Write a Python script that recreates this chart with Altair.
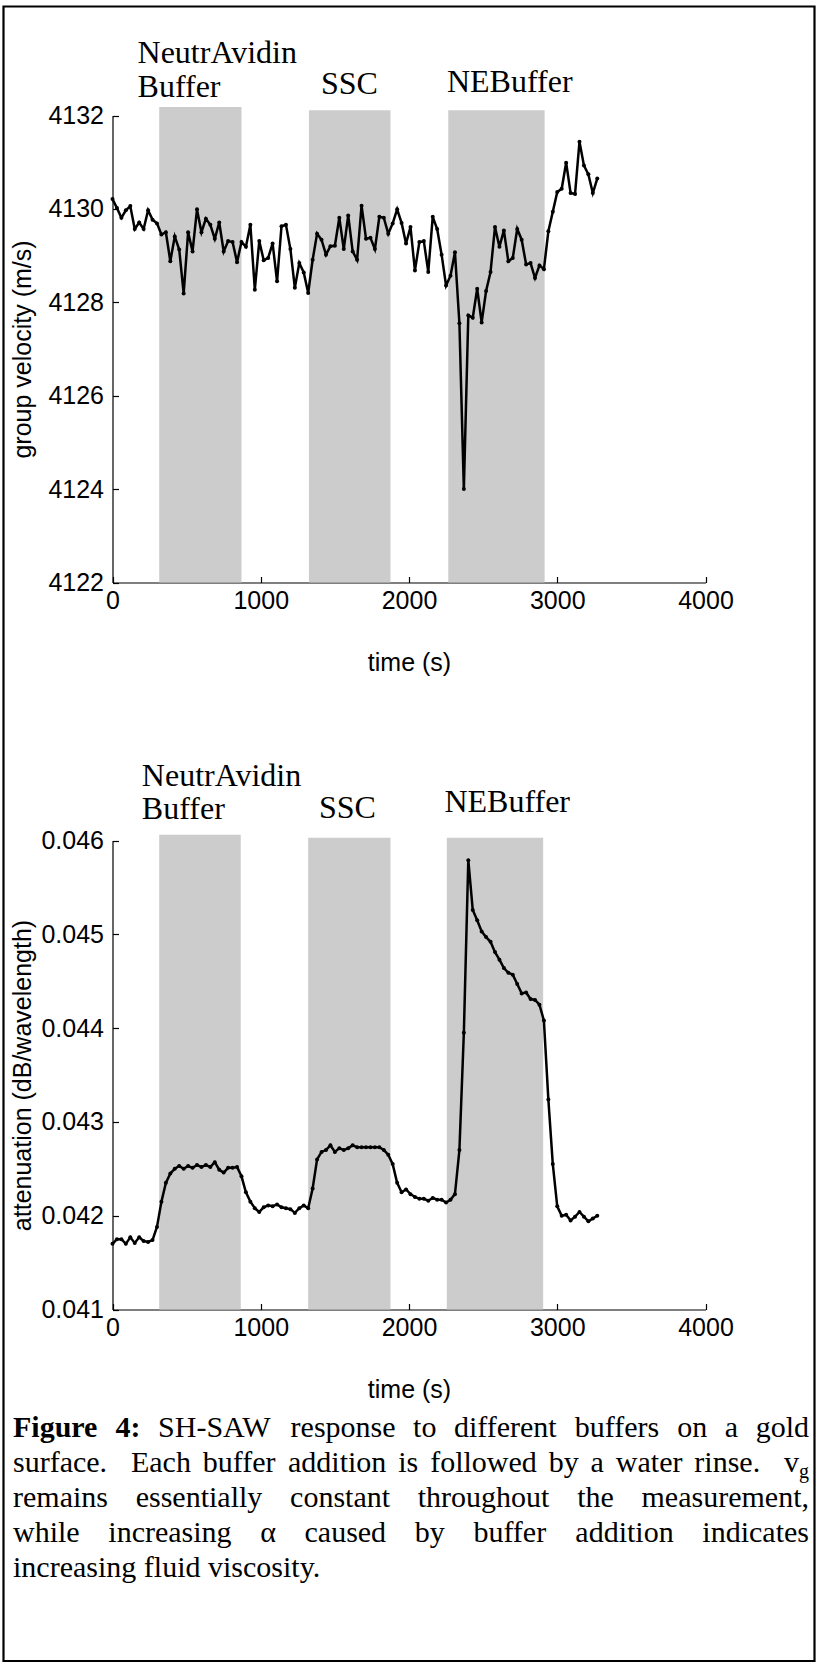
import altair as alt
import pandas as pd

# ---------------- data ----------------
time_s = [
    0, 30, 60, 90, 120, 150, 180, 210, 240, 270,
    300, 330, 360, 390, 420, 450, 480, 510, 540, 570,
    600, 630, 660, 690, 720, 750, 780, 810, 840, 870,
    900, 930, 960, 990, 1020, 1050, 1080, 1110, 1140, 1170,
    1200, 1230, 1260, 1290, 1320, 1350, 1380, 1410, 1440, 1470,
    1500, 1530, 1560, 1590, 1620, 1650, 1680, 1710, 1740, 1770,
    1800, 1830, 1860, 1890, 1920, 1950, 1980, 2010, 2040, 2070,
    2100, 2130, 2160, 2190, 2220, 2250, 2280, 2310, 2340, 2370,
    2400, 2430, 2460, 2490, 2520, 2550, 2580, 2610, 2640, 2670,
    2700, 2730, 2760, 2790, 2820, 2850, 2880, 2910, 2940, 2970,
    3000, 3030, 3060, 3090, 3120, 3150, 3180, 3210, 3240, 3270,
]

group_velocity = [
    4130.21, 4130.02, 4129.81, 4129.97, 4130.06, 4129.57, 4129.71, 4129.57, 4129.97, 4129.77,
    4129.69, 4129.45, 4129.50, 4128.88, 4129.41, 4129.13, 4128.19, 4129.50, 4129.09, 4129.99,
    4129.50, 4129.79, 4129.66, 4129.36, 4129.71, 4129.09, 4129.31, 4129.29, 4128.86, 4129.29,
    4129.19, 4129.66, 4128.27, 4129.31, 4128.90, 4128.95, 4129.26, 4128.45, 4129.63, 4129.66,
    4129.14, 4128.31, 4128.84, 4128.64, 4128.20, 4128.91, 4129.47, 4129.34, 4129.02, 4129.20,
    4129.21, 4129.81, 4129.14, 4129.86, 4129.09, 4128.91, 4130.07, 4129.36, 4129.38, 4129.14,
    4129.83, 4129.81, 4129.47, 4129.69, 4129.99, 4129.70, 4129.26, 4129.61, 4128.68, 4129.29,
    4129.31, 4128.65, 4129.83, 4129.57, 4129.02, 4128.36, 4128.57, 4129.07, 4127.55, 4124.00,
    4127.72, 4127.67, 4128.29, 4127.57, 4128.24, 4128.65, 4129.61, 4129.19, 4129.54, 4128.88,
    4128.95, 4129.57, 4129.34, 4128.81, 4128.84, 4128.52, 4128.79, 4128.71, 4129.52, 4129.94,
    4130.36, 4130.43, 4130.99, 4130.34, 4130.32, 4131.44, 4130.93, 4130.74, 4130.34, 4130.65,
]

attenuation = [
    0.04170, 0.04175, 0.04175, 0.04170, 0.04177, 0.04171, 0.04177, 0.04173, 0.04172, 0.04174,
    0.04188, 0.04215, 0.04235, 0.04245, 0.04250, 0.04253, 0.04250, 0.04253, 0.04251, 0.04254,
    0.04252, 0.04254, 0.04252, 0.04257, 0.04249, 0.04246, 0.04251, 0.04251, 0.04252, 0.04242,
    0.04225, 0.04215, 0.04208, 0.04204, 0.04209, 0.04211, 0.04210, 0.04212, 0.04209, 0.04208,
    0.04207, 0.04203, 0.04208, 0.04211, 0.04208, 0.04229, 0.04260, 0.04268, 0.04270, 0.04275,
    0.04268, 0.04272, 0.04270, 0.04272, 0.04275, 0.04273, 0.04273, 0.04273, 0.04273, 0.04273,
    0.04273, 0.04270, 0.04265, 0.04255, 0.04235, 0.04225, 0.04228, 0.04223, 0.04220, 0.04218,
    0.04218, 0.04216, 0.04219, 0.04217, 0.04217, 0.04214, 0.04217, 0.04223, 0.04270, 0.04395,
    0.04579, 0.04526, 0.04515, 0.04503, 0.04497, 0.04492, 0.04481, 0.04473, 0.04464, 0.04459,
    0.04457, 0.04447, 0.04437, 0.04438, 0.04431, 0.04430, 0.04425, 0.04408, 0.04324, 0.04255,
    0.04210, 0.04200, 0.04201, 0.04195, 0.04199, 0.04204, 0.04199, 0.04194, 0.04197, 0.04200,
]

# shaded buffer intervals (s) and how high each shading reaches
top_band_start = [315, 1325, 2265]
top_band_end = [870, 1875, 2915]
top_band_top = [4132.18, 4132.11, 4132.11]
bot_band_start = [315, 1320, 2255]
bot_band_end = [865, 1875, 2905]
bot_band_top = [0.04606, 0.04603, 0.04603]

# buffer labels (anchored in data coordinates)
label_text = ["NeutrAvidin", "Buffer", "SSC", "NEBuffer"]
top_label_time = [169, 169, 1406, 2256]
top_label_value = [4133.12, 4132.40, 4132.46, 4132.50]
bot_label_time = [198, 198, 1393, 2239]
bot_label_value = [0.046581, 0.046226, 0.046237, 0.046307]

time_ticks = [0, 1000, 2000, 3000, 4000]
velocity_ticks = [4122, 4124, 4126, 4128, 4130, 4132]
attenuation_ticks = [0.041, 0.042, 0.043, 0.044, 0.045, 0.046]

caption_lines = [
    "Figure 4: SH-SAW response to different buffers on a gold",
    "surface.  Each buffer addition is followed by a water rinse.  v_g",
    "remains essentially constant throughout the measurement,",
    "while increasing \u03b1 caused by buffer addition indicates",
    "increasing fluid viscosity.",
]
caption_bold_prefix = ["Figure", "4:"]

# ---------------- layout / style ----------------
W, H = 818, 1668
SANS = "Liberation Sans, Arial, Helvetica, sans-serif"
SERIF = "Liberation Serif, Times New Roman, Times, serif"
X_RANGE = [112.5, 705.5]
TOP_Y_RANGE = [582.5, 115.5]
BOT_Y_RANGE = [1309.5, 840.5]
TICK_FS = 25
LABEL_FS = 32
BAND_FILL = "#cccccc"


def panel(values, band_s, band_e, band_t, lab_t, lab_v, ydom, yrange, yticks, yfmt, ytitle):
    df = pd.DataFrame({"t": time_s, "v": values})
    bands = pd.DataFrame({"s": band_s, "e": band_e, "top": band_t,
                          "bottom": [ydom[0]] * len(band_s)})
    labels = pd.DataFrame({"label": label_text, "t": lab_t, "v": lab_v})
    xs = alt.Scale(domain=[0, 4000], range=X_RANGE, nice=False, zero=False)
    ys = alt.Scale(domain=ydom, range=yrange, nice=False, zero=False)
    axis_y = yrange[0]

    x_main = alt.Axis(orient="bottom", offset=axis_y - H, values=time_ticks, format="d",
                      ticks=False, tickSize=0, domain=True, domainColor="black",
                      domainWidth=1.2, labelFont=SANS, labelFontSize=TICK_FS,
                      labelColor="black", labelPadding=6, labelFlush=False,
                      labelOverlap=False, grid=False, title="time (s)",
                      titleFont=SANS, titleFontSize=TICK_FS, titleFontWeight="normal",
                      titleColor="black", titleY=88, titleBaseline="alphabetic")
    y_main = alt.Axis(orient="left", offset=-X_RANGE[0], values=yticks, format=yfmt,
                      ticks=False, tickSize=0, domain=True, domainColor="black",
                      domainWidth=1.2, labelFont=SANS, labelFontSize=TICK_FS,
                      labelColor="black", labelPadding=9, labelFlush=False,
                      labelOverlap=False, grid=False, title=ytitle, titleFont=SANS,
                      titleFontSize=TICK_FS, titleFontWeight="normal",
                      titleColor="black", titleAngle=270, titleX=-82,
                      titleBaseline="alphabetic")
    x_in = alt.Axis(orient="top", offset=-axis_y, values=time_ticks, labels=False,
                    domain=False, ticks=True, tickSize=6, tickColor="black",
                    tickWidth=1.2, grid=False, title=None)
    y_in = alt.Axis(orient="right", offset=X_RANGE[0] - W, values=yticks, labels=False,
                    domain=False, ticks=True, tickSize=6, tickColor="black",
                    tickWidth=1.2, grid=False, title=None)

    band_layer = alt.Chart(bands).mark_rect(fill=BAND_FILL).encode(
        x=alt.X("s:Q", scale=xs, axis=x_main),
        x2="e:Q",
        y=alt.Y("bottom:Q", scale=ys, axis=y_main),
        y2="top:Q",
    )
    line_layer = alt.Chart(df).mark_line(color="black", strokeWidth=2.5).encode(
        x=alt.X("t:Q", scale=xs, axis=x_in),
        y=alt.Y("v:Q", scale=ys, axis=y_in),
    )
    point_layer = alt.Chart(df).mark_circle(color="black", size=16, opacity=1).encode(
        x=alt.X("t:Q", scale=xs, axis=None),
        y=alt.Y("v:Q", scale=ys, axis=None),
    )
    label_layer = alt.Chart(labels).mark_text(
        font=SERIF, fontSize=LABEL_FS, align="left", baseline="alphabetic", color="black"
    ).encode(
        x=alt.X("t:Q", scale=xs, axis=None),
        y=alt.Y("v:Q", scale=ys, axis=None),
        text="label:N",
    )
    return alt.layer(band_layer, line_layer, point_layer, label_layer).resolve_axis(
        x="independent", y="independent")


top = panel(group_velocity, top_band_start, top_band_end, top_band_top,
            top_label_time, top_label_value, [4122, 4132], TOP_Y_RANGE,
            velocity_ticks, "d", "group velocity (m/s)")
bottom = panel(attenuation, bot_band_start, bot_band_end, bot_band_top,
               bot_label_time, bot_label_value, [0.041, 0.046], BOT_Y_RANGE,
               attenuation_ticks, ".3f", "attenuation (dB/wavelength)")

# ---------------- caption (justified, Times metrics) ----------------
TIMES = {" ": 250, ".": 250, ",": 250, ":": 278, "-": 333, "\u03b1": 520,
         "A": 722, "B": 667, "C": 667, "D": 722, "E": 611, "F": 556, "G": 722,
         "H": 722, "I": 333, "N": 722, "S": 556, "W": 944,
         "a": 444, "b": 500, "c": 444, "d": 500, "e": 444, "f": 333, "g": 500,
         "h": 500, "i": 278, "l": 278, "m": 778, "n": 500, "o": 500, "p": 500,
         "r": 333, "s": 389, "t": 278, "u": 500, "v": 500, "w": 722, "y": 500,
         "4": 500}
TIMES_BOLD = {"F": 611, "i": 278, "g": 500, "u": 556, "r": 444, "e": 444,
              "4": 500, ":": 333}
CAP_FS = 30
SUB_FS = 20
CAP_L, CAP_R = 13, 809
CAP_BASE0, CAP_LEAD = 1437, 35


def tw(s, size, bold=False):
    table = TIMES_BOLD if bold else TIMES
    return sum(table.get(ch, 500) for ch in s) * size / 1000.0


rows = []
for li, line in enumerate(caption_lines):
    tokens = []
    weight = 0
    for tok in line.split(" "):
        if tok == "":
            weight += 1
            continue
        tokens.append((tok, weight if tokens else 0))
        weight = 1
    bold_flags = []
    widths = []
    for k, (tok, _) in enumerate(tokens):
        b = li == 0 and k < len(caption_bold_prefix) and tok == caption_bold_prefix[k]
        bold_flags.append(b)
        if "_" in tok:
            base, sub = tok.split("_")
            widths.append(tw(base, CAP_FS) + tw(sub, SUB_FS))
        else:
            widths.append(tw(tok, CAP_FS, b))
    space = tw(" ", CAP_FS)
    total_w = sum(widths)
    total_weight = sum(w for _, w in tokens)
    justify = li < len(caption_lines) - 1
    if justify and total_weight:
        unit = (CAP_R - CAP_L - total_w) / total_weight
    else:
        unit = space
    base_y = CAP_BASE0 + li * CAP_LEAD
    x = CAP_L
    for k, (tok, w) in enumerate(tokens):
        x += w * unit
        if "_" in tok:
            base, sub = tok.split("_")
            rows.append({"word": base, "px": x, "py": base_y, "kind": "normal"})
            rows.append({"word": sub, "px": x + tw(base, CAP_FS), "py": base_y + 6,
                         "kind": "sub"})
        else:
            rows.append({"word": tok, "px": x, "py": base_y,
                         "kind": "bold" if bold_flags[k] else "normal"})
        x += widths[k]

cap_df = pd.DataFrame(rows)


def cap_layer(kind, size, weight):
    return alt.Chart(cap_df).transform_filter(alt.datum.kind == kind).mark_text(
        font=SERIF, fontSize=size, fontWeight=weight, align="left",
        baseline="alphabetic", color="black"
    ).encode(
        x=alt.X("px:Q", scale=None, axis=None),
        y=alt.Y("py:Q", scale=None, axis=None),
        text="word:N",
    )


caption = alt.layer(cap_layer("normal", CAP_FS, "normal"),
                    cap_layer("bold", CAP_FS, "bold"),
                    cap_layer("sub", SUB_FS, "normal"))

frame = alt.Chart(pd.DataFrame({"k": [0]})).mark_rect(
    filled=False, stroke="black", strokeWidth=2.2
).encode(x=alt.value(3.5), x2=alt.value(814.5), y=alt.value(6.5), y2=alt.value(1661))

chart = alt.layer(top, bottom, caption, frame).resolve_scale(
    x="independent", y="independent"
).properties(
    width=W, height=H, padding=0,
    autosize=alt.AutoSizeParams(type="none"),
    background="white",
).configure_view(strokeWidth=0)

chart.save("out.html", embed_options={"renderer": "svg", "actions": False})
